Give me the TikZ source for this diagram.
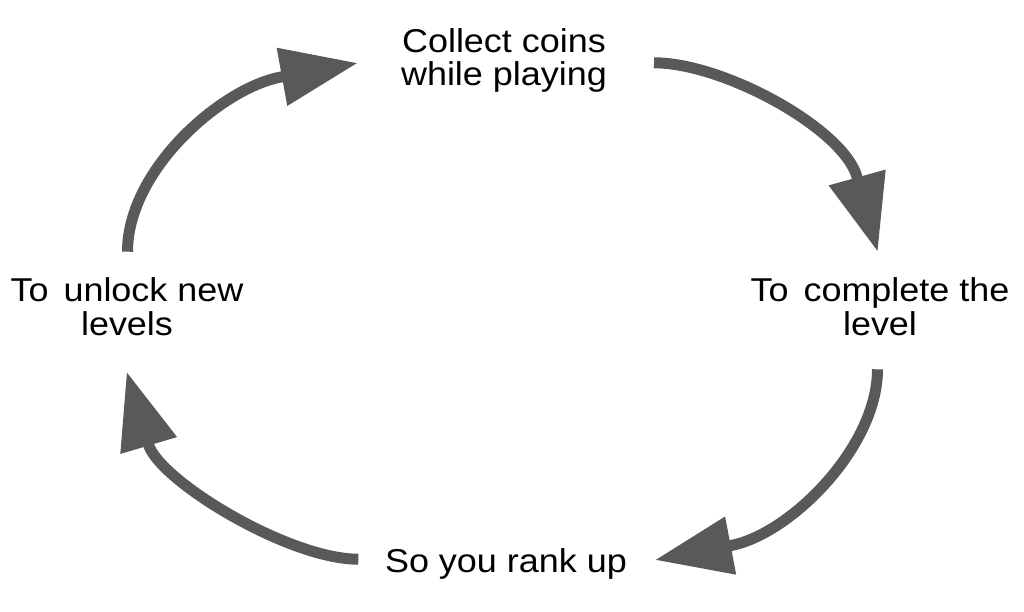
\documentclass[tikz,border=0pt]{standalone}
\usepackage{fontspec}
\setmainfont{Liberation Sans}[FakeStretch=1.09]
\usetikzlibrary{arrows.meta}
\definecolor{arrowgray}{HTML}{595959}
\begin{document}
\begin{tikzpicture}[x=1pt,y=-1pt,
  lbl/.style={font=\fontsize{33}{33.3}\selectfont, align=center, inner sep=0pt, anchor=base, text=black},
  cyc/.style={draw=arrowgray, line width=11pt, -{Triangle[length=77pt,width=56pt]}}]
\useasboundingbox[fill=white] (0,0) rectangle (1024,611);
\node[lbl] (collect) at (504,85.8) {Collect coins\\while playing};
\node[lbl] (complete) at (880,335) {To{\kern5pt} complete the\\level};
\node[lbl] (rank) at (506,572) {So you rank up};
\node[lbl] (unlock) at (127,335) {To{\kern5pt} unlock new\\levels};
\coordinate (s1) at (127.5,251.7);
\coordinate (t1) at (357.7,63);
\coordinate (s2) at (654,62.8);
\coordinate (t2) at (877.7,251.7);
\coordinate (s3) at (877.5,369.3);
\coordinate (t3) at (655,560);
\coordinate (s4) at (358.3,559.2);
\coordinate (t4) at (126.7,371.7);
\draw[cyc] (s1) .. controls (127.5,169.7) and (222,87.8) .. (281,77) -- (t1);
\draw[cyc] (s2) .. controls (724,62.8) and (843.6,128.9) .. (857,177) -- (t2);
\draw[cyc] (s3) .. controls (877.5,447.3) and (789.9,534.3) .. (731,545.5) -- (t3);
\draw[cyc] (s4) .. controls (288.3,559.2) and (159.2,480.6) .. (148.3,444.2) -- (t4);
\end{tikzpicture}
\end{document}
